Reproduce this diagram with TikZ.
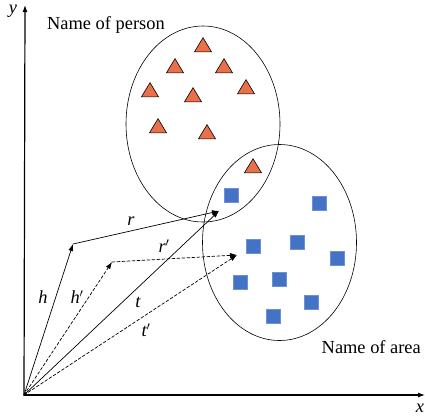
\documentclass[tikz,border=0pt]{standalone}
\usepackage{fontspec}
\setmainfont{Liberation Serif}
\usepackage{tikz}
\usetikzlibrary{arrows.meta,shapes.geometric}
\definecolor{triorange}{HTML}{E8704A}
\definecolor{sqblue}{HTML}{4472C4}
\definecolor{sqedge}{HTML}{6F8FD6}
\tikzset{
  tri/.style={isosceles triangle,isosceles triangle apex angle=62,shape border rotate=90,
    draw=black,fill=triorange,line width=0.6pt,minimum width=17pt,minimum height=14pt,inner sep=0pt},
  sq/.style={rectangle,draw=sqedge,fill=sqblue,line width=0.6pt,minimum size=14pt,inner sep=0pt},
  vec/.style={->,line width=0.7pt},
  dvec/.style={->,line width=0.7pt,dash pattern=on 3pt off 2pt},
  lbl/.style={font=\fontsize{18.4}{18.4}\selectfont\rmfamily\itshape,inner sep=1pt},
  setname/.style={font=\fontsize{18.4}{18.4}\selectfont\rmfamily,inner sep=1pt}
}
\begin{document}
\begin{tikzpicture}[x=1pt,y=-1pt,>={Latex[length=7pt,width=5pt]},line cap=round]
\useasboundingbox (0,0) rectangle (425,418);
% axes
\coordinate (O) at (24,395);
\coordinate (xend) at (425,395);
\coordinate (yend) at (25,5);
\draw[->,line width=1.2pt] (O) -- (xend);
\draw[->,line width=1.2pt] (O) -- (yend);
\node[lbl] (ylab) at (13,11) {y};
\node[lbl] (xlab) at (420,408) {x};
% sets
\draw[line width=0.6pt] (203,124) ellipse (77 and 98);
\draw[line width=0.6pt] (279.5,242.5) ellipse (77 and 98);
\node[setname,anchor=west] (person) at (46,25) {Name of person};
\node[setname,anchor=east] (area) at (422,347) {Name of area};
% entities
\foreach \px/\py [count=\i] in {203/47,175/68,224/68,150/92,193/97,246/89,158/128,207/134,253/168}
  \node[tri] (tri\i) at (\px,\py) {};
\foreach \px/\py [count=\i] in {231/195,319/203,253/246,297/242,337/258,240/282,279/279,311/302,273/316}
  \node[sq] (sq\i) at (\px,\py) {};
% vectors
\coordinate (H) at (73,244);
\coordinate (R) at (219,211);
\coordinate (Hp) at (112,262);
\coordinate (Rp) at (237,255);
\draw[vec] (O) -- (H);
\draw[vec] (H) -- (R);
\draw[vec] (O) -- (R);
\draw[dvec] (O) -- (Hp);
\draw[dvec] (Hp) -- (Rp);
\draw[dvec] (O) -- (Rp);
\node[lbl] (hlab) at (43,297) {h};
\node[lbl] (hplab) at (77,297) {h$'$};
\node[lbl] (rlab) at (131,221) {r};
\node[lbl] (rplab) at (164,246) {r$'$};
\node[lbl] (tlab) at (138,302) {t};
\node[lbl] (tplab) at (146,330) {t$'$};
\end{tikzpicture}
\end{document}
